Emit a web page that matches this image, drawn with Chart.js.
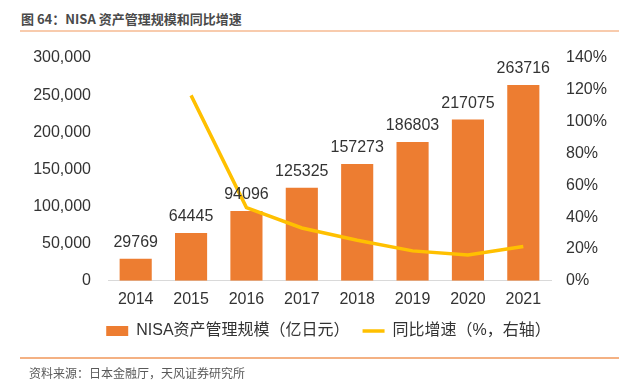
<!DOCTYPE html>
<html>
<head>
<meta charset="utf-8">
<script src="https://cdn.jsdelivr.net/npm/chart.js@4/dist/chart.umd.min.js"></script>
<style>
  body { margin: 0; width: 625px; height: 389px; background: #fff; position: relative; overflow: hidden;
         font-family: "Liberation Sans", "Noto Sans CJK SC", sans-serif; }
  #title { position: absolute; left: 21px; top: 9px; font-size: 13px; font-weight: bold; color: #4a4a4a;
           font-family: "Noto Sans CJK SC", sans-serif; }
  #topline { position: absolute; left: 20px; width: 599px; top: 30px; height: 2px; background: #f8cbad; }
  #botline { position: absolute; left: 20px; width: 599px; top: 357px; height: 2px; background: #f4b183; }
  #source { position: absolute; left: 29px; top: 364px; font-size: 12px; color: #595959;
            font-family: "Noto Sans CJK SC", sans-serif; }
  #wrap { position: absolute; left: 0; top: 0; width: 625px; height: 359px; }
</style>
</head>
<body>
<div id="title">图 64：NISA 资产管理规模和同比增速</div>
<div id="topline"></div>
<div id="wrap"><canvas id="chart"></canvas></div>
<div id="botline"></div>
<div id="source">资料来源：日本金融厅，天风证券研究所</div>
<script>
// Data
const years = ['2014', '2015', '2016', '2017', '2018', '2019', '2020', '2021'];
const assets = [29769, 64445, 94096, 125325, 157273, 186803, 217075, 263716];
const growth = [null, 116.5, 46.0, 33.2, 25.5, 18.8, 16.2, 21.5];

const barColor = '#ed7d31';
const lineColor = '#ffc000';
const textColor = '#333333';

// draws the value above each bar
const barLabels = {
  id: 'barLabels',
  afterDatasetsDraw(chart) {
    const ctx = chart.ctx;
    const meta = chart.getDatasetMeta(0);
    ctx.save();
    ctx.font = '16px "Liberation Sans", Arial, sans-serif';
    ctx.fillStyle = textColor;
    ctx.textAlign = 'center';
    ctx.textBaseline = 'bottom';
    meta.data.forEach((bar, i) => {
      ctx.fillText(String(assets[i]), bar.x, bar.y - 8);
    });
    ctx.restore();
  }
};

const font16 = { family: '"Liberation Sans", Arial, "Noto Sans CJK SC", sans-serif', size: 16 };

new Chart(document.getElementById('chart'), {
  data: {
    labels: years,
    datasets: [
      {
        type: 'bar',
        label: 'NISA资产管理规模（亿日元）',
        data: assets,
        backgroundColor: barColor,
        yAxisID: 'y',
        categoryPercentage: 1,
        barPercentage: 0.58,
        order: 2
      },
      {
        type: 'line',
        label: '同比增速（%，右轴）',
        data: growth,
        borderColor: lineColor,
        backgroundColor: lineColor,
        borderWidth: 3.5,
        pointRadius: 0,
        tension: 0,
        yAxisID: 'y1',
        order: 1
      }
    ]
  },
  options: {
    responsive: true,
    maintainAspectRatio: false,
    animation: false,
    layout: { padding: { top: 58, left: 32, right: 0, bottom: 10 } },
    plugins: {
      tooltip: { enabled: false },
      legend: {
        position: 'bottom',
        labels: {
          font: font16,
          color: textColor,
          usePointStyle: true,
          pointStyleWidth: 22,
          boxHeight: 10,
          padding: 13,
          generateLabels(chart) {
            return chart.data.datasets.map((ds, i) => ({
              text: ds.label,
              fillStyle: ds.type === 'bar' ? barColor : lineColor,
              strokeStyle: ds.type === 'bar' ? barColor : lineColor,
              lineWidth: ds.type === 'bar' ? 0 : 3.5,
              pointStyle: ds.type === 'bar' ? 'rect' : 'line',
              fontColor: textColor,
              datasetIndex: i
            }));
          }
        }
      }
    },
    scales: {
      x: {
        grid: { display: false },
        border: { color: '#d9d9d9' },
        ticks: { font: font16, color: textColor, padding: 1 }
      },
      y: {
        position: 'left',
        min: 0,
        max: 300000,
        grid: { display: false },
        border: { display: false },
        ticks: {
          stepSize: 50000,
          font: font16,
          color: textColor,
          padding: 9,
          callback: v => v.toLocaleString('en-US')
        },
        afterFit(scale) { scale.width = 76; }
      },
      y1: {
        position: 'right',
        min: 0,
        max: 140,
        grid: { display: false },
        border: { display: false },
        ticks: {
          stepSize: 20,
          font: font16,
          color: textColor,
          padding: 7,
          callback: v => v + '%'
        },
        afterFit(scale) { scale.width = 74; }
      }
    }
  },
  plugins: [barLabels]
});
</script>
</body>
</html>
